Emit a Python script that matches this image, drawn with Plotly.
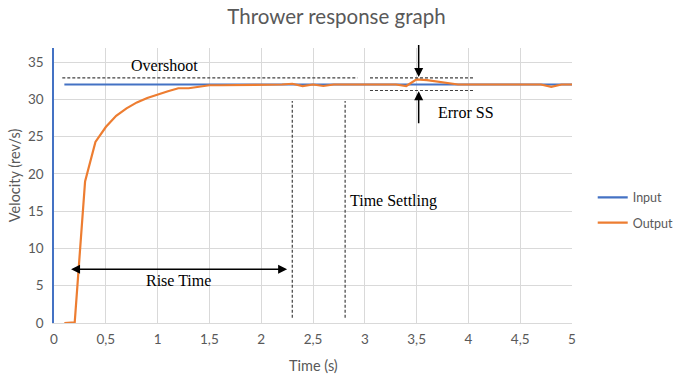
import plotly.graph_objects as go

time_s = [0.1, 0.2, 0.3, 0.4, 0.5, 0.6, 0.7, 0.8, 0.9, 1.0, 1.1, 1.2, 1.3, 1.4, 1.5,
          1.6, 1.7, 1.8, 1.9, 2.0, 2.1, 2.2, 2.3, 2.4, 2.5, 2.6, 2.7, 2.8, 2.9, 3.0,
          3.1, 3.2, 3.3, 3.4, 3.5, 3.6, 3.7, 3.8, 3.9, 4.0, 4.1, 4.2, 4.3, 4.4, 4.5,
          4.6, 4.7, 4.8, 4.9, 5.0]
input_v = [32] * len(time_s)
output_v = [0, 0.1, 19, 24.3, 26.3, 27.8, 28.8, 29.6, 30.2, 30.7, 31.1, 31.5, 31.5, 31.7, 31.9,
            31.9, 31.9, 31.9, 31.9, 31.9, 32.0, 32.0, 32.1, 31.8, 32.0, 31.8, 32.0, 32.0, 32.0, 32.0,
            32.0, 32.0, 32.0, 31.8, 32.7, 32.6, 32.4, 32.2, 32.0, 32.0, 32.0, 32.0, 32.0, 32.0, 32.0,
            32.0, 32.0, 31.7, 32.0, 32.0]

x_ticks = [0, 0.5, 1, 1.5, 2, 2.5, 3, 3.5, 4, 4.5, 5]
y_ticks = [0, 5, 10, 15, 20, 25, 30, 35]

fig = go.Figure()
fig.add_trace(go.Scatter(x=time_s, y=input_v, mode="lines", name="Input", legendgroup="a",
                         line=dict(color="#4472C4", width=2.2)))
fig.add_trace(go.Scatter(x=time_s, y=output_v, mode="lines", name="Output", legendgroup="b",
                         line=dict(color="#ED7D31", width=2.2)))

dash_style = dict(color="#404040", width=1.2, dash="3px,2px")
shapes = [
    dict(type="line", xref="x", yref="y", x0=0.08, x1=2.93, y0=32.9, y1=32.9, line=dash_style),
    dict(type="line", xref="x", yref="y", x0=3.05, x1=4.05, y0=32.9, y1=32.9, line=dash_style),
    dict(type="line", xref="x", yref="y", x0=3.05, x1=4.05, y0=31.2, y1=31.2, line=dash_style),
    dict(type="line", xref="x", yref="y", x0=2.30, x1=2.30, y0=0.7, y1=29.8, line=dash_style),
    dict(type="line", xref="x", yref="y", x0=2.81, x1=2.81, y0=0.7, y1=29.8, line=dash_style),
]

serif = dict(family="Liberation Serif, Times New Roman, serif", size=16, color="#000000")
label_font = dict(family="Lato, Open Sans, sans-serif", size=14.5, color="#595959")
annotations = [
    dict(x=1.07, y=34.6, xref="x", yref="y", text="Overshoot", showarrow=False, font=serif),
    dict(x=3.98, y=28.3, xref="x", yref="y", text="Error SS", showarrow=False, font=serif),
    dict(x=3.28, y=16.4, xref="x", yref="y", text="Time Settling", showarrow=False, font=serif),
    dict(x=1.20, y=5.76, xref="x", yref="y", text="Rise Time", showarrow=False, font=serif),
    # axis titles
    dict(x=0.5, y=-0.153, xref="paper", yref="paper", text="Time (s)", showarrow=False,
         font=label_font, xanchor="center", yanchor="middle"),
    dict(x=-0.077, y=0.538, xref="paper", yref="paper", text="Velocity (rev/s)", showarrow=False,
         font=label_font, textangle=-90, xanchor="center", yanchor="middle"),
    # down arrow
    dict(x=3.52, y=33.0, xref="x", yref="y", ax=3.52, ay=37.5, axref="x", ayref="y",
         text="", showarrow=True, arrowhead=2, arrowsize=1.2, arrowwidth=1.5, arrowcolor="#000000"),
    # up arrow
    dict(x=3.52, y=31.1, xref="x", yref="y", ax=3.52, ay=26.6, axref="x", ayref="y",
         text="", showarrow=True, arrowhead=2, arrowsize=1.2, arrowwidth=1.5, arrowcolor="#000000"),
    # rise time double arrow
    dict(x=2.25, y=7.2, xref="x", yref="y", ax=0.15, ay=7.2, axref="x", ayref="y",
         text="", showarrow=True, arrowhead=2, startarrowhead=2, arrowside="end+start",
         arrowsize=1.2, startarrowsize=1.2, arrowwidth=1.5, arrowcolor="#000000"),
]

tick_font = dict(family="Lato, Open Sans, sans-serif", size=13.5, color="#595959")
fig.update_layout(
    width=673, height=376,
    margin=dict(l=54, r=101, t=48, b=53, autoexpand=False),
    paper_bgcolor="white", plot_bgcolor="white",
    separators=",.",
    title=dict(text="Thrower response graph", x=0.5, xanchor="center", y=0.955, yanchor="middle",
               font=dict(family="Lato, Open Sans, sans-serif", size=20.5, color="#595959")),
    xaxis=dict(range=[0, 5], tickvals=x_ticks, showgrid=True, gridcolor="#D9D9D9", gridwidth=1,
               zeroline=False, showline=True, linecolor="#D9D9D9", ticks="", tickfont=tick_font,
               ticklabelstandoff=4),
    yaxis=dict(range=[0, 36.9], tickvals=y_ticks, showgrid=True, gridcolor="#D9D9D9", gridwidth=1,
               zeroline=False, showline=True, linecolor="#4472C4", linewidth=1.5, ticks="",
               tickfont=tick_font, ticklabelstandoff=6),
    legend=dict(x=1.04, y=0.41, xanchor="left", yanchor="middle",
                font=dict(family="Lato, Open Sans, sans-serif", size=12.5, color="#595959"),
                bgcolor="rgba(0,0,0,0)", tracegroupgap=6, itemwidth=30),
    shapes=shapes,
    annotations=annotations,
    showlegend=True,
)

fig.write_html("out.html")
